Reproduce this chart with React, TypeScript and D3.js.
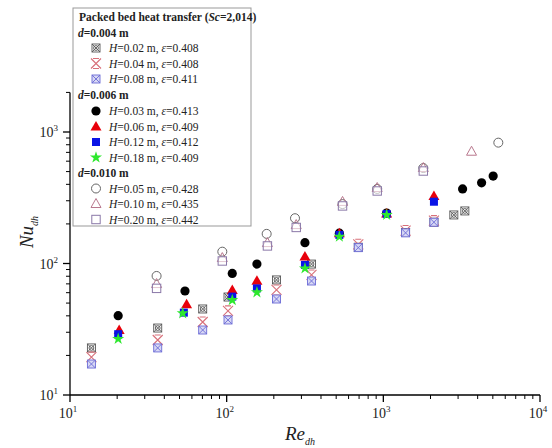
import React from "react";
import * as d3 from "d3";

// ---------- data ----------
// d = 0.004 m
const reH002 = [13.7, 36.3, 70.3, 102, 208, 348, 692, 1387, 2104, 2818, 3314];
const nuH002 = [22.8, 32.3, 45.1, 55.6, 75, 99, 133, 172, 206, 234, 251];
const reH004 = [13.7, 36.3, 70.3, 102, 208, 348, 692, 1387, 2104];
const nuH004 = [19.4, 26.2, 35.9, 43.6, 62.9, 81.8, 140, 178, 212];
const reH008 = [13.7, 36.3, 70.3, 102, 208, 348, 692, 1387, 2104];
const nuH008 = [17.2, 22.8, 31.2, 37.2, 53.7, 73.6, 132, 171, 206];
// d = 0.006 m
const reH003 = [20.3, 54.2, 108.6, 156, 316, 524, 1050, 3206, 4238, 5024];
const nuH003 = [40.1, 61.8, 84.1, 99, 144, 170, 242, 369, 411, 462];
const reH006 = [20.6, 55.5, 108.6, 156, 316, 524, 1050, 2104];
const nuH006 = [31.2, 49, 62.9, 74, 113, 170, 240, 326];
const reH012 = [20.3, 53.3, 108.6, 156, 316, 524, 1050, 2104];
const nuH012 = [29, 42.3, 56, 64.7, 97.5, 165, 238, 295];
const reH018 = [20.3, 52.4, 108.6, 156, 316, 524, 1050];
const nuH018 = [26.7, 41.8, 52.7, 60.4, 91.8, 160, 234];
// d = 0.010 m
const reH005 = [35.7, 93.8, 180, 273, 549, 914, 1800, 5420];
const nuH005 = [80.4, 123, 168, 221, 283, 369, 532, 830];
const reH010 = [35.7, 93.8, 182, 278, 549, 914, 1800, 3656];
const nuH010 = [69.8, 110, 143, 196, 294, 375, 532, 708];
const reH020 = [35.7, 93.8, 182, 278, 549, 914, 1800];
const nuH020 = [64.7, 104.5, 136, 188, 274, 356, 505];

const groupLabels = ["=0.004 m", "=0.006 m", "=0.010 m"];
const hLabels = [
  ["=0.02 m, ", "=0.408"],
  ["=0.04 m, ", "=0.408"],
  ["=0.08 m, ", "=0.411"],
  ["=0.03 m, ", "=0.413"],
  ["=0.06 m, ", "=0.409"],
  ["=0.12 m, ", "=0.412"],
  ["=0.18 m, ", "=0.409"],
  ["=0.05 m, ", "=0.428"],
  ["=0.10 m, ", "=0.435"],
  ["=0.20 m, ", "=0.442"],
];
const xTickPowers = [1, 2, 3, 4];
const yTickPowers = [1, 2, 3];

type Series = { re: number[]; nu: number[]; marker: string; group: number; label: number };
const series: Series[] = [
  { re: reH002, nu: nuH002, marker: "boxcircle", group: 0, label: 0 },
  { re: reH004, nu: nuH004, marker: "xbar", group: 0, label: 1 },
  { re: reH008, nu: nuH008, marker: "boxx", group: 0, label: 2 },
  { re: reH003, nu: nuH003, marker: "dot", group: 1, label: 3 },
  { re: reH006, nu: nuH006, marker: "tri", group: 1, label: 4 },
  { re: reH012, nu: nuH012, marker: "sq", group: 1, label: 5 },
  { re: reH018, nu: nuH018, marker: "star", group: 1, label: 6 },
  { re: reH005, nu: nuH005, marker: "ocircle", group: 2, label: 7 },
  { re: reH010, nu: nuH010, marker: "otri", group: 2, label: 8 },
  { re: reH020, nu: nuH020, marker: "osq", group: 2, label: 9 },
];

// ---------- layout ----------
const W = 552, H = 448;
const x0 = 70, x1 = 540, yBottom = 395, y1000 = 132;

const xScale = d3.scaleLog().domain([10, 10000]).range([x0, x1]);
const yScale = d3.scaleLog().domain([10, 1000]).range([yBottom, y1000]);
const yTop = yScale(2000);

const serif = "'Liberation Serif', 'Times New Roman', serif";

function Marker({ type, cx, cy }: { type: string; cx: number; cy: number }) {
  const s = 4;
  switch (type) {
    case "boxcircle":
      return (
        <g stroke="#555" strokeWidth={0.9} fill="none">
          <rect x={cx - s} y={cy - s} width={2 * s} height={2 * s} fill="#fff" />
          <path d={`M${cx - s},${cy - s}L${cx + s},${cy + s}M${cx + s},${cy - s}L${cx - s},${cy + s}`} />
          <circle cx={cx} cy={cy} r={2.4} />
        </g>
      );
    case "xbar":
      return (
        <g stroke="#d8707a" strokeWidth={1.1} fill="none">
          <path d={`M${cx - 5},${cy - 5}L${cx + 5},${cy + 5}M${cx + 5},${cy - 5}L${cx - 5},${cy + 5}M${cx - 3},${cy - 5}L${cx + 3},${cy - 5}M${cx - 3},${cy + 5}L${cx + 3},${cy + 5}`} />
        </g>
      );
    case "boxx":
      return (
        <g stroke="#6b6bd6" strokeWidth={0.9} fill="#d8d8f4">
          <rect x={cx - s} y={cy - s} width={2 * s} height={2 * s} />
          <path fill="none" d={`M${cx - s},${cy - s}L${cx + s},${cy + s}M${cx + s},${cy - s}L${cx - s},${cy + s}`} />
        </g>
      );
    case "dot":
      return <circle cx={cx} cy={cy} r={4.6} fill="#000" />;
    case "tri":
      return <path d={`M${cx},${cy - 5.5}L${cx + 5.5},${cy + 4}L${cx - 5.5},${cy + 4}Z`} fill="#e8000b" />;
    case "sq":
      return <rect x={cx - 4} y={cy - 4} width={8} height={8} fill="#0a14e6" />;
    case "star": {
      const p = d3.symbol().type(d3.symbolStar).size(45)();
      return <path d={p || ""} transform={`translate(${cx},${cy})`} fill="#2ee82e" />;
    }
    case "ocircle":
      return <circle cx={cx} cy={cy} r={4.5} fill="#fff" stroke="#666" strokeWidth={1} />;
    case "otri":
      return <path d={`M${cx},${cy - 5.5}L${cx + 5},${cy + 3.5}L${cx - 5},${cy + 3.5}Z`} fill="none" stroke="#b9788e" strokeWidth={1} />;
    case "osq":
      return <rect x={cx - 4.2} y={cy - 4.2} width={8.4} height={8.4} fill="#fff" fillOpacity={0.6} stroke="#8a78a8" strokeWidth={1} />;
    default:
      return null;
  }
}

export default function App() {
  const xMinor: number[] = [];
  for (let p = 1; p < 4; p++) for (let k = 2; k <= 9; k++) xMinor.push(k * Math.pow(10, p));
  const yMinor: number[] = [];
  for (let p = 1; p < 3; p++) for (let k = 2; k <= 9; k++) yMinor.push(k * Math.pow(10, p));
  yMinor.push(2000);

  // legend rows
  const legLeft = 73, legTop = 8, legRight = 251, legBottom = 226;
  const rowYs = [48, 63.5, 79, 111, 126.5, 142, 157.5, 188.5, 204, 219.5];
  const groupYs = [33, 95, 173];

  return (
    <div style={{ position: "fixed", left: 0, top: 0 }}>
      <svg width={W} height={H} style={{ display: "block", background: "#fff" }}>
        {/* axes */}
        <g stroke="#000" strokeWidth={1.3} fill="none">
          <line x1={x0} y1={yBottom} x2={x1} y2={yBottom} />
          <line x1={x0} y1={yBottom} x2={x0} y2={yTop} />
          {xTickPowers.map((p) => (
            <line key={"xM" + p} x1={xScale(Math.pow(10, p))} x2={xScale(Math.pow(10, p))} y1={yBottom} y2={yBottom + 7} />
          ))}
          {xMinor.map((v) => (
            <line key={"xm" + v} x1={xScale(v)} x2={xScale(v)} y1={yBottom} y2={yBottom + 4} strokeWidth={1} />
          ))}
          {yTickPowers.map((p) => (
            <line key={"yM" + p} x1={x0 - 7} x2={x0} y1={yScale(Math.pow(10, p))} y2={yScale(Math.pow(10, p))} />
          ))}
          {yMinor.map((v) => (
            <line key={"ym" + v} x1={x0 - 4} x2={x0} y1={yScale(v)} y2={yScale(v)} strokeWidth={1} />
          ))}
        </g>
        {/* tick labels */}
        <g fontFamily={serif} fontSize={14} fill="#222">
          {xTickPowers.map((p) => (
            <text key={"xl" + p} x={xScale(Math.pow(10, p)) - 2} y={418} textAnchor="middle">
              10<tspan fontSize={9} dy={-6}>{p}</tspan>
            </text>
          ))}
          {yTickPowers.map((p) => (
            <text key={"yl" + p} x={58} y={yScale(Math.pow(10, p)) + 5} textAnchor="end">
              10<tspan fontSize={9} dy={-6}>{p}</tspan>
            </text>
          ))}
        </g>
        {/* axis titles */}
        <text x={300} y={440} fontFamily={serif} fontSize={19} fontStyle="italic" textAnchor="middle" fill="#222">
          Re<tspan fontSize={10} dy={5}>dh</tspan>
        </text>
        <text transform={`translate(33,232) rotate(-90)`} fontFamily={serif} fontSize={19} fontStyle="italic" textAnchor="middle" fill="#222">
          Nu<tspan fontSize={10} dy={5}>dh</tspan>
        </text>

        {/* data */}
        {series.map((s, i) => (
          <g key={"s" + i}>
            {s.re.map((r, j) => (
              <Marker key={j} type={s.marker} cx={xScale(r)} cy={yScale(s.nu[j])} />
            ))}
          </g>
        ))}

        {/* legend */}
        <rect x={legLeft} y={legTop} width={legRight - legLeft} height={legBottom - legTop} fill="#fff" stroke="#999" strokeWidth={1} />
        <g fontFamily={serif} fontSize={11.5} fill="#222">
          <text x={79} y={21} fontWeight="bold">
            Packed bed heat transfer (<tspan fontStyle="italic">Sc</tspan>=2,014)
          </text>
          {groupLabels.map((g, i) => (
            <text key={"g" + i} x={78} y={groupYs[i] + 4} fontWeight="bold">
              <tspan fontStyle="italic">d</tspan>{g}
            </text>
          ))}
          {series.map((s, i) => (
            <g key={"l" + i}>
              <Marker type={s.marker} cx={96} cy={rowYs[i]} />
              <text x={109} y={rowYs[i] + 4}>
                <tspan fontStyle="italic">H</tspan>{hLabels[s.label][0]}<tspan fontStyle="italic">ε</tspan>{hLabels[s.label][1]}
              </text>
            </g>
          ))}
        </g>
      </svg>
    </div>
  );
}
